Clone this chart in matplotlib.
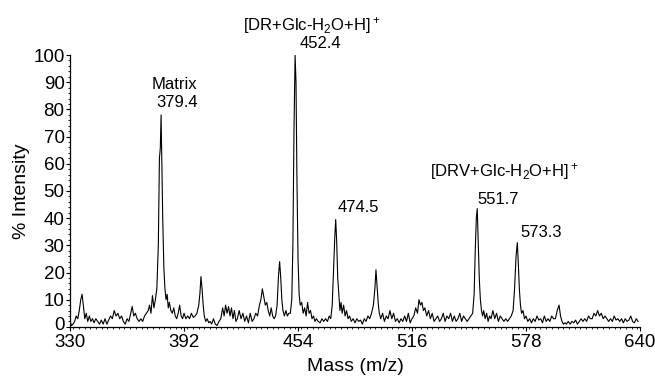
import matplotlib
matplotlib.use("Agg")
import matplotlib.pyplot as plt
import matplotlib.transforms as mtransforms
from matplotlib.ticker import MultipleLocator

plt.rcParams['font.family'] = ['Liberation Sans', 'DejaVu Sans']
plt.rcParams['mathtext.fontset'] = 'custom'
plt.rcParams['mathtext.rm'] = 'Liberation Sans'
plt.rcParams['mathtext.default'] = 'regular'

# spectrum: m/z and % intensity
mz = [330.0, 330.8, 331.6, 332.5, 333.3, 334.2, 335.0, 335.8, 336.5, 337.2, 338.0, 338.8, 339.6,
      340.5, 341.3, 342.2, 343.0, 344.0, 345.0, 346.0, 347.0, 348.0, 349.0, 350.0, 351.0, 352.0,
      353.0, 354.0, 355.0, 356.0, 357.0, 358.0, 359.0, 360.0, 361.0, 362.0, 363.0, 363.8, 364.6,
      365.5, 366.5, 367.5, 368.5, 369.5, 370.5, 371.5, 372.5, 373.2, 374.0, 374.8, 375.6, 376.4,
      377.2, 378.0, 378.6, 379.1, 379.5, 379.9, 380.4, 381.0, 381.6, 382.2, 382.8, 383.4, 384.0,
      384.8, 385.6, 386.4, 387.2, 388.0, 388.8, 389.6, 390.4, 391.2, 392.0, 393.0, 394.0, 395.0,
      396.0, 397.0, 398.0, 399.0, 400.0, 400.6, 401.2, 401.8, 402.4, 403.0, 403.8, 404.6, 405.4,
      406.2, 407.0, 408.0, 409.0, 410.0, 411.0, 412.0, 413.0, 413.8, 414.6, 415.4, 416.2, 417.0,
      417.8, 418.6, 419.4, 420.2, 421.0, 422.0, 423.0, 424.0, 425.0, 426.0, 427.0, 428.0, 429.0,
      430.0, 431.0, 432.0, 433.0, 433.8, 434.6, 435.4, 436.2, 437.0, 437.8, 438.6, 439.4, 440.2,
      441.0, 441.8, 442.6, 443.4, 444.0, 444.6, 445.2, 445.8, 446.6, 447.4, 448.2, 449.0, 449.8,
      450.6, 451.2, 451.8, 452.4, 452.9, 453.4, 454.0, 454.6, 455.2, 456.0, 456.8, 457.6, 458.4,
      459.2, 460.0, 460.8, 461.6, 462.4, 463.2, 464.0, 465.0, 466.0, 467.0, 468.0, 469.0, 470.0,
      471.0, 471.8, 472.6, 473.4, 474.0, 474.5, 475.0, 475.6, 476.2, 476.8, 477.4, 478.0, 478.8,
      479.6, 480.4, 481.2, 482.0, 483.0, 484.0, 485.0, 486.0, 487.0, 488.0, 489.0, 490.0, 491.0,
      492.0, 493.0, 494.0, 495.0, 495.8, 496.4, 497.0, 497.6, 498.2, 499.0, 500.0, 501.0, 502.0,
      503.0, 504.0, 505.0, 506.0, 507.0, 508.0, 509.0, 510.0, 511.0, 512.0, 513.0, 514.0, 515.0,
      516.0, 517.0, 518.0, 519.0, 519.8, 520.6, 521.4, 522.2, 523.0, 524.0, 525.0, 526.0, 527.0,
      528.0, 529.0, 530.0, 531.0, 532.0, 533.0, 534.0, 535.0, 536.0, 537.0, 538.0, 539.0, 540.0,
      541.0, 542.0, 543.0, 544.0, 545.0, 546.0, 547.0, 548.0, 549.0, 549.8, 550.4, 551.0, 551.5,
      552.0, 552.6, 553.2, 553.8, 554.4, 555.0, 555.8, 556.6, 557.4, 558.2, 559.0, 560.0, 561.0,
      562.0, 563.0, 564.0, 565.0, 566.0, 567.0, 568.0, 569.0, 570.0, 571.0, 571.8, 572.6, 573.3,
      573.8, 574.4, 575.0, 575.6, 576.4, 577.2, 578.0, 579.0, 580.0, 581.0, 582.0, 583.0, 584.0,
      585.0, 586.0, 587.0, 588.0, 589.0, 590.0, 591.0, 592.0, 593.0, 594.0, 595.0, 596.0, 596.8,
      597.6, 598.4, 599.2, 600.0, 601.0, 602.0, 603.0, 604.0, 605.0, 606.0, 607.0, 608.0, 609.0,
      610.0, 611.0, 612.0, 613.0, 614.0, 615.0, 616.0, 617.0, 618.0, 619.0, 620.0, 621.0, 622.0,
      623.0, 624.0, 625.0, 626.0, 627.0, 628.0, 629.0, 630.0, 631.0, 632.0, 633.0, 634.0, 635.0,
      636.0, 637.0, 638.0, 639.0]

intensity = [2, 0.5, 1, 2, 4, 3, 6, 10, 12, 8, 3, 5, 2,
             4, 2, 3, 1.5, 3, 2, 1, 2.5, 1, 3, 1, 2.5, 4,
             3, 6, 4, 5, 3, 4, 2, 1, 3, 2, 5, 7.5, 4,
             5, 3, 2, 3, 2, 4, 5, 6, 8, 5, 11.5, 7, 10,
             14, 30, 62, 66, 78, 60, 40, 22, 14, 10, 12, 7, 9,
             6, 5, 7, 4, 3, 5, 8, 4, 3, 5, 3, 4, 3,
             5, 3.5, 4, 5, 8, 12, 18.5, 14, 8, 4, 2, 3, 1.5,
             2, 1, 3, 1, 0.5, 2, 3, 7, 4, 8, 5, 7.5, 4,
             7, 3, 6, 2, 3, 6, 3, 5, 2, 4, 1.5, 5, 2,
             3, 5, 4, 8, 10, 14, 11, 8, 9, 6, 4, 7, 4,
             3, 4, 8, 19, 24, 18, 10, 6, 4, 6, 4, 5, 5,
             10, 30, 72, 100, 90, 55, 25, 12, 8, 9, 5, 7, 4,
             9, 5, 6, 3, 4, 2, 3, 2, 1.5, 3, 2, 3, 2,
             4, 3, 8, 22, 33, 39.5, 32, 18, 12, 6, 9, 5, 8,
             4, 6, 3, 4, 2, 3, 1.5, 3, 2, 2.5, 1, 3, 2,
             4, 3, 5, 8, 14, 21, 15, 9, 5, 3, 5, 2, 4,
             3, 6, 3, 5, 2, 3, 1.5, 3, 2, 4, 2, 5, 1.5,
             3, 4, 7, 5, 10, 8, 9, 6, 7, 4, 6, 3, 5,
             2, 3, 4, 2, 3, 5, 2, 4, 3, 5, 2, 4, 2,
             3, 5, 2, 4, 3, 2, 3, 4, 5, 12, 28, 40, 43.5,
             32, 18, 10, 6, 4, 6, 3, 5, 2, 4, 3, 6, 3,
             5, 2, 4, 3, 2, 3, 2, 3, 4, 6, 14, 26, 31,
             24, 14, 8, 5, 6, 3, 4, 2, 3, 1.5, 3, 2, 4,
             2.5, 3, 1.5, 4, 2, 3, 2, 4, 3, 3, 6, 8, 4,
             2, 1, 1.5, 1, 2, 1, 2, 1.5, 2.5, 1, 2, 3, 2,
             3, 2, 4, 3, 3, 5, 4, 6, 4, 5, 3, 4, 3,
             2, 3, 2, 4, 2.5, 3, 2, 3, 1.5, 3, 2, 2.5, 4,
             2, 1.5, 3, 2]

x_ticks = [330, 392, 454, 516, 578, 640]
y_ticks = list(range(0, 101, 10))

fig = plt.figure(figsize=(6.55, 3.85), dpi=100)
ax = fig.add_axes([0.107, 0.151, 0.870, 0.706])

ax.plot(mz, intensity, color='black', lw=0.8)

ax.set_xlim(330, 640)
ax.set_ylim(0, 100)
ax.set_xticks(x_ticks)
ax.set_yticks(y_ticks)
ax.xaxis.set_minor_locator(MultipleLocator(3.1))
ax.yaxis.set_minor_locator(MultipleLocator(2))
ax.tick_params(which='major', direction='out', length=3, width=0.8, labelsize=13.5, pad=1)
ax.tick_params(axis='x', which='major', pad=2)
ax.tick_params(which='minor', direction='out', length=1.5, width=0.6)
for s in ['top', 'right']:
    ax.spines[s].set_visible(False)
ax.spines['left'].set_linewidth(0.9)
ax.spines['bottom'].set_linewidth(0.9)

# nudge the "0" label up a little so it clears "330"
lbl0 = ax.get_yticklabels()[0]
lbl0.set_transform(lbl0.get_transform() +
                   mtransforms.ScaledTranslation(0, 2.5 / 72, fig.dpi_scale_trans))

ax.set_xlabel('Mass (m/z)', fontsize=14, labelpad=5)
ax.set_ylabel('% Intensity', fontsize=14, labelpad=2)

# peak annotations
fs = 12
ax.text(387, 89, 'Matrix', ha='center', va='center', fontsize=fs)
ax.text(388.5, 82.7, '379.4', ha='center', va='center', fontsize=fs)
ax.text(461.6, 111, r'[DR+Glc-H$_2$O+H]$^+$', ha='center', va='center', fontsize=fs, clip_on=False)
ax.text(466, 104.4, '452.4', ha='center', va='center', fontsize=fs, clip_on=False)
ax.text(486.6, 43.8, '474.5', ha='center', va='center', fontsize=fs)
ax.text(566.5, 57, r'[DRV+Glc-H$_2$O+H]$^+$', ha='center', va='center', fontsize=fs)
ax.text(562.7, 46.7, '551.7', ha='center', va='center', fontsize=fs)
ax.text(586.1, 34.9, '573.3', ha='center', va='center', fontsize=fs)

plt.savefig('out.png', dpi=100)
